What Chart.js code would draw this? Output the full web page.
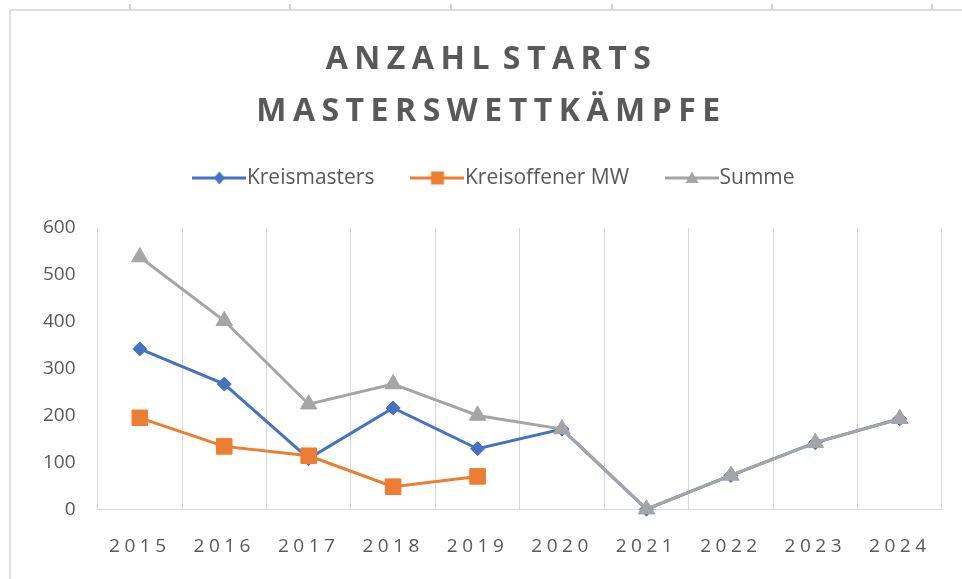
<!DOCTYPE html>
<html>
<head>
<meta charset="utf-8">
<script src="https://cdn.jsdelivr.net/npm/chart.js@4"></script>
<style>
html,body{margin:0;padding:0;background:#fff;width:962px;height:579px;overflow:hidden;}
#wrap{position:absolute;left:0;top:0;width:962px;height:579px;}
#frame{position:absolute;left:9px;top:9px;right:-2px;bottom:-2px;border-left:2px solid #dedede;border-top:2px solid #dedede;}
.tk{position:absolute;top:4px;width:2px;height:6px;background:#cdd3e3;}
canvas{position:absolute;left:0;top:0;}
</style>
</head>
<body>
<div id="wrap">
  <div id="frame"></div>
  <div class="tk" style="left:129px"></div>
  <div class="tk" style="left:289px"></div>
  <div class="tk" style="left:450px"></div>
  <div class="tk" style="left:611px"></div>
  <div class="tk" style="left:771px"></div>
  <div class="tk" style="left:931px"></div>
  <canvas id="c" width="962" height="579"></canvas>
</div>
<script>
// ---- data ----
const titleLines = ['ANZAHL STARTS', 'MASTERSWETTKÄMPFE'];
const years = ['2015', '2016', '2017', '2018', '2019', '2020', '2021', '2022', '2023', '2024'];
const kreismasters = [342, 267, 108, 216, 129, 171, 0, 72, 142, 193];
const kreisoffenerMW = [195, 134, 114, 48, 70];
const summe = [538, 402, 224, 267, 200, 171, 0, 72, 142, 193];
const seriesNames = ['Kreismasters', 'Kreisoffener MW', 'Summe'];
const yTicks = [0, 100, 200, 300, 400, 500, 600];

const BLUE = '#4472C4', ORANGE = '#ED7D31', GRAY = '#A5A5A5', TEXT = '#595959';
const FONT = "'Open Sans', 'DejaVu Sans', sans-serif";
const LEGEND_HEIGHT = 106.5;
const TITLE_SHIFT = 10, LEGEND_SHIFT = 17;

function legendIcon(color, kind) {
  const c = document.createElement('canvas');
  c.width = 54; c.height = 20;
  const g = c.getContext('2d');
  g.strokeStyle = color; g.fillStyle = color; g.lineWidth = 3;
  g.beginPath(); g.moveTo(0, 10); g.lineTo(54, 10); g.stroke();
  const cx = 27, cy = 10;
  g.beginPath();
  if (kind === 'diamond') {
    g.moveTo(cx, cy - 6.5); g.lineTo(cx + 5.5, cy); g.lineTo(cx, cy + 6.5); g.lineTo(cx - 5.5, cy); g.closePath();
  } else if (kind === 'square') {
    g.rect(cx - 6.5, cy - 6.5, 13, 13);
  } else {
    g.moveTo(cx, cy - 6.5); g.lineTo(cx + 6.5, cy + 5); g.lineTo(cx - 6.5, cy + 5); g.closePath();
  }
  g.fill();
  return c;
}
const legendIcons = [legendIcon(BLUE, 'diamond'), legendIcon(ORANGE, 'square'), legendIcon(GRAY, 'triangle')];

const spacingPlugin = {
  id: 'spacing',
  afterInit(chart) {
    const tb = chart.titleBlock;
    if (tb) {
      const orig = tb.draw;
      tb.draw = function (...a) {
        const ctx = chart.ctx;
        ctx.save();
        ctx.letterSpacing = '6.5px';
        ctx.wordSpacing = '-8px';
        orig.apply(this, a);
        ctx.restore();
      };
    }
    const lg = chart.legend;
    if (lg) {
      const origFit = lg.fit;
      lg.fit = function (...a) {
        origFit.apply(this, a);
        this.height = LEGEND_HEIGHT;
      };
    }
  },
  afterLayout(chart) {
    if (chart.titleBlock) { chart.titleBlock.left += TITLE_SHIFT; chart.titleBlock.right += TITLE_SHIFT; }
    if (chart.legend) { chart.legend.left += LEGEND_SHIFT; chart.legend.right += LEGEND_SHIFT; }
  },
  afterDatasetsDraw(chart) { chart.ctx.save(); chart.ctx.letterSpacing = '4.5px'; },
  afterDraw(chart) { chart.ctx.restore(); }
};

new Chart(document.getElementById('c'), {
  type: 'line',
  data: {
    labels: years,
    datasets: [
      { label: seriesNames[0], data: kreismasters, borderColor: BLUE, backgroundColor: BLUE,
        pointStyle: 'rectRot', pointRadius: 7, pointBorderWidth: 1, order: 3 },
      { label: seriesNames[1], data: kreisoffenerMW, borderColor: ORANGE, backgroundColor: ORANGE,
        pointStyle: 'rect', pointRadius: 11, pointBorderWidth: 1, order: 2 },
      { label: seriesNames[2], data: summe, borderColor: GRAY, backgroundColor: GRAY,
        pointStyle: 'triangle', pointRadius: 9.5, pointBorderWidth: 1, order: 1 }
    ]
  },
  options: {
    responsive: false,
    animation: false,
    devicePixelRatio: 1,
    events: [],
    elements: { line: { borderWidth: 3, tension: 0 } },
    datasets: { line: { clip: false } },
    layout: { padding: { left: 21, right: 20, top: 0, bottom: -5 } },
    plugins: {
      tooltip: { enabled: false },
      title: {
        display: true, text: titleLines, color: TEXT,
        font: { family: FONT, size: 32, weight: 'bold', lineHeight: 1.625 },
        padding: { top: 34, bottom: -16.5 }
      },
      legend: {
        display: true, position: 'top',
        labels: {
          usePointStyle: true, pointStyleWidth: 34, boxHeight: 21, padding: 46,
          color: TEXT, font: { family: FONT, size: 21 },
          generateLabels(chart) {
            return chart.data.datasets.map((ds, i) => ({
              text: ds.label, fillStyle: ds.borderColor, strokeStyle: ds.borderColor,
              lineWidth: 0, pointStyle: legendIcons[i], datasetIndex: i, hidden: false, fontColor: TEXT
            }));
          }
        }
      }
    },
    scales: {
      x: {
        offset: true,
        grid: { offset: true, color: '#d9d9d9', lineWidth: 1, drawTicks: false },
        border: { color: '#d9d9d9', width: 1 },
        ticks: { color: TEXT, font: { family: FONT, size: 19 }, padding: 26, z: 1, maxRotation: 0, autoSkip: false }
      },
      y: {
        min: yTicks[0], max: yTicks[yTicks.length - 1],
        afterBuildTicks(scale) { scale.ticks = yTicks.map(v => ({ value: v })); },
        grid: { display: false, drawTicks: false },
        border: { display: false },
        ticks: { color: TEXT, font: { family: FONT, size: 19 }, padding: 22 }
      }
    }
  },
  plugins: [spacingPlugin]
});
</script>
</body>
</html>
